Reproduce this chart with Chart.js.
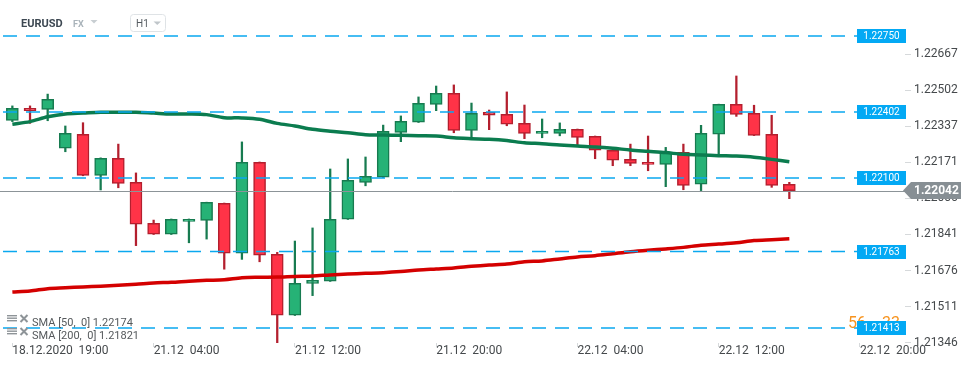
<!DOCTYPE html>
<html lang="pt-BR">
<head>
<meta charset="utf-8">
<title>EURUSD H1</title>
<script src="https://cdn.jsdelivr.net/npm/chart.js@4.4.1/dist/chart.umd.min.js"></script>
<style>
    html, body { margin: 0; padding: 0; background: #ffffff; }
    canvas { display: block; }
</style>
</head>
<body>
<canvas id="grafico-eurusd" width="974" height="368"></canvas>
<script>
// Velas EURUSD H1 (18.12.2020 19:00 -> 22.12.2020 16:00)
const abertura = [
    1.22364, 1.22419, 1.22414, 1.22236, 1.22300, 1.22112, 1.22190, 1.22080, 1.21892, 1.21842,
    1.21901, 1.21906, 1.21984, 1.21756, 1.22172, 1.21750, 1.21471, 1.21617, 1.21627, 1.21911,
    1.22080, 1.22103, 1.22309, 1.22355, 1.22437, 1.22488, 1.22318, 1.22401, 1.22391, 1.22350,
    1.22304, 1.22304, 1.22323, 1.22291, 1.22227, 1.22185, 1.22172, 1.22162, 1.22217, 1.22071,
    1.22300, 1.22437, 1.22396, 1.22300, 1.22071
];
const maxima = [
    1.22430, 1.22430, 1.22484, 1.22338, 1.22353, 1.22192, 1.22255, 1.22123, 1.21907, 1.21912,
    1.21912, 1.21989, 1.21985, 1.22265, 1.22173, 1.21759, 1.21811, 1.21871, 1.22141, 1.22187,
    1.22196, 1.22342, 1.22384, 1.22471, 1.22521, 1.22526, 1.22443, 1.22411, 1.22494, 1.22434,
    1.22370, 1.22352, 1.22324, 1.22292, 1.22228, 1.22255, 1.22292, 1.22240, 1.22255, 1.22341,
    1.22438, 1.22567, 1.22433, 1.22387, 1.22080
];
const minima = [
    1.22358, 1.22350, 1.22362, 1.22220, 1.22110, 1.22045, 1.22055, 1.21790, 1.21841, 1.21841,
    1.21803, 1.21820, 1.21682, 1.21727, 1.21716, 1.21345, 1.21470, 1.21561, 1.21626, 1.21910,
    1.22064, 1.22102, 1.22266, 1.22354, 1.22408, 1.22307, 1.22282, 1.22321, 1.22339, 1.22280,
    1.22284, 1.22293, 1.22248, 1.22188, 1.22156, 1.22156, 1.22133, 1.22060, 1.22046, 1.22042,
    1.22204, 1.22382, 1.22294, 1.22057, 1.22005
];
const fechamento = [
    1.22419, 1.22408, 1.22460, 1.22304, 1.22112, 1.22190, 1.22075, 1.21888, 1.21842, 1.21911,
    1.21911, 1.21988, 1.21755, 1.22172, 1.21746, 1.21471, 1.21617, 1.21631, 1.21911, 1.22089,
    1.22107, 1.22314, 1.22359, 1.22442, 1.22488, 1.22318, 1.22396, 1.22387, 1.22346, 1.22304,
    1.22314, 1.22323, 1.22286, 1.22227, 1.22181, 1.22167, 1.22162, 1.22217, 1.22066, 1.22304,
    1.22437, 1.22391, 1.22295, 1.22066, 1.22042
];

// Médias móveis
const sma50 = [
    1.22346, 1.22358, 1.22380, 1.22393, 1.22397, 1.22401, 1.22401, 1.22401, 1.22397, 1.22393,
    1.22393, 1.22390, 1.22376, 1.22375, 1.22369, 1.22350, 1.22338, 1.22323, 1.22314, 1.22307,
    1.22298, 1.22297, 1.22295, 1.22293, 1.22292, 1.22284, 1.22280, 1.22277, 1.22271, 1.22261,
    1.22257, 1.22251, 1.22246, 1.22242, 1.22236, 1.22228, 1.22222, 1.22216, 1.22208, 1.22205,
    1.22202, 1.22200, 1.22195, 1.22185, 1.22174
];
const sma200 = [
    1.21578, 1.21582, 1.21593, 1.21597, 1.21601, 1.21604, 1.21608, 1.21613, 1.21619, 1.21622,
    1.21627, 1.21631, 1.21634, 1.21643, 1.21645, 1.21646, 1.21649, 1.21651, 1.21656, 1.21660,
    1.21663, 1.21666, 1.21671, 1.21678, 1.21683, 1.21688, 1.21695, 1.21701, 1.21706, 1.21716,
    1.21720, 1.21729, 1.21738, 1.21744, 1.21753, 1.21762, 1.21769, 1.21775, 1.21782, 1.21792,
    1.21797, 1.21803, 1.21813, 1.21817, 1.21821
];

// Níveis horizontais e preço atual
const niveis = [1.22750, 1.22402, 1.22100, 1.21763, 1.21413];
const precoAtual = 1.22042;

// Rótulos dos eixos
const ticksY = [1.22667, 1.22502, 1.22337, 1.22171, 1.22006, 1.21841, 1.21676, 1.21511, 1.21346];
const posicoesX = [0, 8, 16, 24, 32, 40, 48];
const rotulosX = ['18.12.2020  19:00', '21.12  04:00', '21.12  12:00', '21.12  20:00', '22.12  04:00', '22.12  12:00', '22.12  20:00'];

// Cores
const corAlta = '#26b276';
const bordaAlta = '#177b50';
const corBaixa = '#ff3347';
const bordaBaixa = '#b31f2e';
const corNivel = '#0aa8ef';

Chart.defaults.font.family = 'Roboto';

const indices = abertura.map((_, i) => i);
const alta = indices.map(i => fechamento[i] >= abertura[i]);

// Plugin para níveis, caixas de preço, cabeçalho e legenda
const extras = {
    id: 'extras',
    afterDatasetsDraw(chart) {
        const { ctx, chartArea, scales: { y } } = chart;
        ctx.save();
        // linha do preço atual
        const yPreco = Math.round(y.getPixelForValue(precoAtual)) + 0.5;
        ctx.strokeStyle = '#8c9498';
        ctx.lineWidth = 1;
        ctx.beginPath();
        ctx.moveTo(chartArea.left, yPreco);
        ctx.lineTo(chartArea.right, yPreco);
        ctx.stroke();
        // níveis tracejados
        ctx.strokeStyle = corNivel;
        ctx.lineWidth = 1.5;
        ctx.setLineDash([14, 9]);
        ctx.lineDashOffset = 20;
        niveis.forEach(valor => {
            const py = y.getPixelForValue(valor);
            ctx.beginPath();
            ctx.moveTo(chartArea.left, py);
            ctx.lineTo(chartArea.right - 48, py);
            ctx.stroke();
        });
        ctx.restore();
    },
    afterDraw(chart) {
        const { ctx, chartArea, scales: { y } } = chart;
        const xCaixa = chartArea.right - 48;
        ctx.save();

        // cronômetro (fica atrás da caixa do nível)
        ctx.fillStyle = '#f7931e';
        ctx.textBaseline = 'alphabetic';
        ctx.font = '16px Roboto';
        ctx.fillText('56', 848, 328);
        ctx.fillText('33', 882, 328);
        ctx.font = '12px Roboto';
        ctx.fillText('m', 866, 328);
        ctx.fillText('s', 896, 328);

        // caixas dos níveis
        ctx.font = '10px Roboto';
        ctx.textAlign = 'center';
        ctx.textBaseline = 'middle';
        niveis.forEach(valor => {
            const py = Math.round(y.getPixelForValue(valor));
            ctx.fillStyle = '#03a9f4';
            ctx.fillRect(xCaixa, py - 7, 49, 14);
            ctx.fillStyle = '#ffffff';
            ctx.fillText(valor.toFixed(5), xCaixa + 24.5, py + 0.5);
        });

        // caixa do preço atual
        const yPreco = y.getPixelForValue(precoAtual);
        const xPonta = chartArea.right - 2;
        ctx.fillStyle = '#878f94';
        ctx.beginPath();
        ctx.moveTo(xPonta, yPreco);
        ctx.lineTo(xPonta + 8, yPreco - 8.5);
        ctx.lineTo(961, yPreco - 8.5);
        ctx.lineTo(961, yPreco + 8.5);
        ctx.lineTo(xPonta + 8, yPreco + 8.5);
        ctx.closePath();
        ctx.fill();
        ctx.fillStyle = '#ffffff';
        ctx.font = 'bold 12px Roboto';
        ctx.textAlign = 'left';
        ctx.fillText(precoAtual.toFixed(5), 914, yPreco + 0.5);

        // cabeçalho
        ctx.textBaseline = 'alphabetic';
        ctx.fillStyle = '#3d4852';
        ctx.font = 'bold 11px Roboto';
        ctx.fillText('EURUSD', 21, 27);
        ctx.fillStyle = '#a9b3ba';
        ctx.font = 'bold 9px Roboto';
        ctx.fillText('FX', 73, 27);
        ctx.fillStyle = '#c8ced2';
        ctx.beginPath();
        ctx.moveTo(90.5, 20); ctx.lineTo(97.5, 20); ctx.lineTo(94, 23.5); ctx.closePath();
        ctx.fill();
        ctx.strokeStyle = '#dfe3e6';
        ctx.lineWidth = 1;
        ctx.beginPath();
        ctx.roundRect(130.5, 14.5, 35, 17, 3);
        ctx.stroke();
        ctx.fillStyle = '#555b60';
        ctx.font = '10px Roboto';
        ctx.fillText('H1', 136, 27);
        ctx.fillStyle = '#c0c6ca';
        ctx.beginPath();
        ctx.moveTo(153.5, 21.5); ctx.lineTo(161, 21.5); ctx.lineTo(157.25, 25); ctx.closePath();
        ctx.fill();

        // legenda das médias
        const linhasLegenda = [
            'SMA [50,  0] ' + sma50[sma50.length - 1].toFixed(5),
            'SMA [200,  0] ' + sma200[sma200.length - 1].toFixed(5)
        ];
        linhasLegenda.forEach((texto, k) => {
            const base = 326 + k * 13;
            ctx.fillStyle = '#8e9498';
            for (let j = 0; j < 3; j++) {
                ctx.fillRect(7, base - 11 + j * 2.5, 10, 1.4);
            }
            ctx.strokeStyle = '#8e9498';
            ctx.lineWidth = 2;
            ctx.beginPath();
            ctx.moveTo(20.5, base - 11); ctx.lineTo(27.5, base - 4);
            ctx.moveTo(27.5, base - 11); ctx.lineTo(20.5, base - 4);
            ctx.stroke();
            ctx.fillStyle = '#55595c';
            ctx.font = '11px Roboto';
            ctx.fillText(texto, 32, base);
        });

        ctx.restore();
    }
};

// Função para criar o gráfico de velas
function criarGraficoVelas() {
    const ctx = document.getElementById('grafico-eurusd').getContext('2d');

    new Chart(ctx, {
        type: 'bar',
        data: {
            datasets: [
                {
                    type: 'line',
                    label: 'SMA 50',
                    data: indices.map(i => ({ x: i, y: sma50[i] })),
                    borderColor: '#0b7c4f',
                    borderWidth: 3.5,
                    pointRadius: 0,
                    tension: 0.3,
                    order: 0
                },
                {
                    type: 'line',
                    label: 'SMA 200',
                    data: indices.map(i => ({ x: i, y: sma200[i] })),
                    borderColor: '#d40000',
                    borderWidth: 3.5,
                    pointRadius: 0,
                    tension: 0.3,
                    order: 0
                },
                {
                    label: 'Corpo',
                    data: indices.map(i => ({ x: i, y: [abertura[i], fechamento[i]] })),
                    backgroundColor: alta.map(a => a ? corAlta : corBaixa),
                    borderColor: alta.map(a => a ? bordaAlta : bordaBaixa),
                    borderWidth: 1.5,
                    borderSkipped: false,
                    barThickness: 12,
                    grouped: false,
                    order: 1
                },
                {
                    label: 'Pavio',
                    data: indices.map(i => ({ x: i, y: [minima[i], maxima[i]] })),
                    backgroundColor: alta.map(a => a ? bordaAlta : bordaBaixa),
                    borderWidth: 0,
                    barThickness: 1.6,
                    grouped: false,
                    order: 2
                }
            ]
        },
        options: {
            responsive: false,
            animation: false,
            layout: { padding: 0 },
            plugins: {
                legend: { display: false },
                tooltip: { enabled: false }
            },
            scales: {
                x: {
                    type: 'linear',
                    min: -0.7,
                    max: 50.55,
                    offset: false,
                    afterBuildTicks: escala => {
                        escala.ticks = posicoesX.map(v => ({ value: v }));
                    },
                    afterFit: escala => {
                        escala.height = 25;
                        escala.paddingLeft = 0;
                        escala.paddingRight = 0;
                    },
                    ticks: {
                        callback: (valor, indice) => rotulosX[indice],
                        align: 'start',
                        autoSkip: false,
                        maxRotation: 0,
                        minRotation: 0,
                        padding: -3,
                        color: '#45494c',
                        font: { size: 12 }
                    },
                    grid: {
                        offset: false,
                        drawOnChartArea: false,
                        tickLength: 4,
                        color: '#d6d9db'
                    },
                    border: { display: false }
                },
                y: {
                    position: 'right',
                    min: 1.21344,
                    max: 1.22915,
                    afterBuildTicks: escala => {
                        escala.ticks = ticksY.map(v => ({ value: v }));
                    },
                    afterFit: escala => {
                        escala.width = 69;
                        escala.paddingTop = 0;
                        escala.paddingBottom = 0;
                    },
                    ticks: {
                        callback: valor => valor.toFixed(5),
                        padding: 3,
                        color: '#45494c',
                        font: { size: 12 }
                    },
                    grid: {
                        drawOnChartArea: false,
                        tickLength: 6,
                        color: '#d6d9db'
                    },
                    border: { display: false }
                }
            }
        },
        plugins: [extras]
    });
}

criarGraficoVelas();
</script>
</body>
</html>
